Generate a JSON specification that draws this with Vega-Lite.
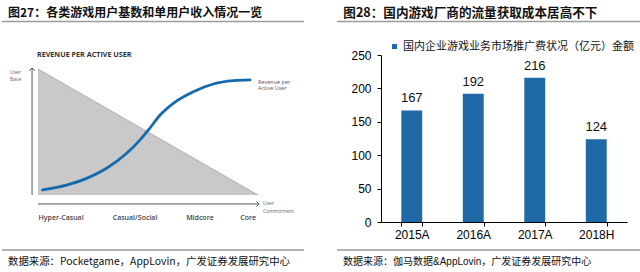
{
  "$schema": "https://vega.github.io/schema/vega-lite/v6.json",
  "background": "white",
  "padding": 0,
  "spacing": 8,
  "config": {"view": {"stroke": null}, "font": "Liberation Sans"},
  "hconcat": [
    {
      "width": 320,
      "height": 272,
      "layer": [
        {
          "data": {"values": [{}]},
          "layer": [
            {
              "mark": {"type": "text", "align": "left", "baseline": "middle", "font": "Noto Sans CJK SC", "fontSize": 12, "fontWeight": "bold", "color": "#111"},
              "encoding": {
                "x": {"datum": 0.025, "type": "quantitative", "scale": {"domain": [0, 1]}, "axis": null},
                "y": {"datum": 0.952, "type": "quantitative", "scale": {"domain": [0, 1]}, "axis": null},
                "text": {"value": "图27：各类游戏用户基数和单用户收入情况一览"}
              }
            },
            {
              "mark": {"type": "rule", "color": "#9a9a9a", "strokeWidth": 1.5},
              "encoding": {
                "x": {"datum": 0.006, "type": "quantitative"},
                "x2": {"datum": 0.95},
                "y": {"datum": 0.921, "type": "quantitative"}
              }
            },
            {
              "mark": {"type": "rule", "color": "#9a9a9a", "strokeWidth": 1.5},
              "encoding": {
                "x": {"datum": 0.006, "type": "quantitative"},
                "x2": {"datum": 0.95},
                "y": {"datum": 0.081, "type": "quantitative"}
              }
            },
            {
              "mark": {"type": "text", "align": "left", "baseline": "middle", "font": "Noto Sans CJK SC", "fontSize": 10.4, "color": "#111"},
              "encoding": {
                "x": {"datum": 0.025, "type": "quantitative"},
                "y": {"datum": 0.037, "type": "quantitative"},
                "text": {"value": "数据来源：Pocketgame，AppLovin，广发证券发展研究中心"}
              }
            }
          ]
        },
        {
          "layer": [
            {
              "data": {"values": [{"c": 0, "v": 1}, {"c": 1, "v": 0}]},
              "mark": {"type": "area", "color": "#c9c9c9"},
              "encoding": {
                "x": {"field": "c", "type": "quantitative", "scale": {"domain": [0, 1], "range": [38, 258], "nice": false, "zero": false}, "axis": null},
                "y": {"field": "v", "type": "quantitative", "scale": {"domain": [0, 1], "range": [195, 69], "nice": false, "zero": false}, "axis": null}
              }
            },
            {
              "data": {"values": [{"c": 0, "v": 1}, {"c": 1, "v": 0}]},
              "mark": {"type": "line", "color": "#a5a5a5", "strokeWidth": 0.8},
              "encoding": {
                "x": {"field": "c", "type": "quantitative"},
                "y": {"field": "v", "type": "quantitative"}
              }
            },
            {
              "data": {"values": [{}]},
              "mark": {"type": "rule", "color": "#555", "strokeWidth": 1},
              "encoding": {
                "x": {"datum": -0.027, "type": "quantitative"},
                "y": {"datum": 0, "type": "quantitative"},
                "y2": {"datum": 1.008}
              }
            },
            {
              "data": {"values": [{}]},
              "mark": {"type": "rule", "color": "#555", "strokeWidth": 1},
              "encoding": {
                "x": {"datum": 0, "type": "quantitative"},
                "x2": {"datum": 1.005},
                "y": {"datum": -0.071, "type": "quantitative"}
              }
            },
            {
              "data": {"values": [{}]},
              "mark": {"type": "point", "shape": "M -1 1 L 0 0 L 1 1", "filled": false, "color": "#555", "strokeWidth": 1, "size": 30, "opacity": 1},
              "encoding": {
                "x": {"datum": -0.027, "type": "quantitative"},
                "y": {"datum": 1.008, "type": "quantitative"}
              }
            },
            {
              "data": {"values": [{}]},
              "mark": {"type": "point", "shape": "M -1 -1 L 0 0 L -1 1", "filled": false, "color": "#555", "strokeWidth": 1, "size": 30, "opacity": 1},
              "encoding": {
                "x": {"datum": 1.005, "type": "quantitative"},
                "y": {"datum": -0.071, "type": "quantitative"}
              }
            },
            {
              "data": {"values": [
                {"c": 0.021, "v": 0.04},
                {"c": 0.13, "v": 0.079},
                {"c": 0.221, "v": 0.132},
                {"c": 0.312, "v": 0.212},
                {"c": 0.403, "v": 0.331},
                {"c": 0.464, "v": 0.437},
                {"c": 0.502, "v": 0.516},
                {"c": 0.555, "v": 0.635},
                {"c": 0.615, "v": 0.728},
                {"c": 0.706, "v": 0.82},
                {"c": 0.797, "v": 0.881},
                {"c": 0.888, "v": 0.907},
                {"c": 0.964, "v": 0.913}
              ]},
              "mark": {"type": "line", "color": "#1569ad", "strokeWidth": 2.8, "interpolate": "monotone", "strokeCap": "round"},
              "encoding": {
                "x": {"field": "c", "type": "quantitative"},
                "y": {"field": "v", "type": "quantitative"}
              }
            },
            {
              "data": {"values": [
                {"label": "Hyper-Casual", "c": 0.105},
                {"label": "Casual/Social", "c": 0.441},
                {"label": "Midcore", "c": 0.736},
                {"label": "Core", "c": 0.955}
              ]},
              "mark": {"type": "text", "font": "Open Sans", "fontSize": 7, "fontWeight": 600, "color": "#444", "baseline": "middle"},
              "encoding": {
                "x": {"field": "c", "type": "quantitative"},
                "y": {"datum": -0.183, "type": "quantitative"},
                "text": {"field": "label"}
              }
            },
            {
              "data": {"values": [{}]},
              "mark": {"type": "text", "font": "Open Sans", "fontSize": 7.2, "fontWeight": "bold", "color": "#333", "align": "left", "baseline": "middle"},
              "encoding": {
                "x": {"datum": -0.005, "type": "quantitative"},
                "y": {"datum": 1.111, "type": "quantitative"},
                "text": {"value": "REVENUE PER ACTIVE USER"}
              }
            },
            {
              "data": {"values": [{}]},
              "mark": {"type": "text", "font": "Open Sans", "fontSize": 5, "color": "#666", "align": "left", "baseline": "middle", "lineHeight": 7},
              "encoding": {
                "x": {"datum": -0.127, "type": "quantitative"},
                "y": {"datum": 0.976, "type": "quantitative"},
                "text": {"value": ["User", "Base"]}
              }
            },
            {
              "data": {"values": [{}]},
              "mark": {"type": "text", "font": "Open Sans", "fontSize": 5.5, "color": "#555", "align": "left", "baseline": "middle", "lineHeight": 6.5},
              "encoding": {
                "x": {"datum": 1.0, "type": "quantitative"},
                "y": {"datum": 0.897, "type": "quantitative"},
                "text": {"value": ["Revenue per", "Active User"]}
              }
            },
            {
              "data": {"values": [{}]},
              "mark": {"type": "text", "font": "Open Sans", "fontSize": 5, "color": "#666", "align": "left", "baseline": "middle", "lineHeight": 8.5},
              "encoding": {
                "x": {"datum": 1.023, "type": "quantitative"},
                "y": {"datum": -0.063, "type": "quantitative"},
                "text": {"value": ["User", "Commitment"]}
              }
            }
          ]
        }
      ],
      "resolve": {"scale": {"x": "independent", "y": "independent"}}
    },
    {
      "width": 312,
      "height": 272,
      "layer": [
        {
          "data": {"values": [{}]},
          "layer": [
            {
              "mark": {"type": "text", "align": "left", "baseline": "middle", "font": "Noto Sans CJK SC", "fontSize": 12.6, "fontWeight": "bold", "color": "#111"},
              "encoding": {
                "x": {"datum": 0.049, "type": "quantitative", "scale": {"domain": [0, 1]}, "axis": null},
                "y": {"datum": 0.952, "type": "quantitative", "scale": {"domain": [0, 1]}, "axis": null},
                "text": {"value": "图28：国内游戏厂商的流量获取成本居高不下"}
              }
            },
            {
              "mark": {"type": "rule", "color": "#9a9a9a", "strokeWidth": 1.5},
              "encoding": {
                "x": {"datum": 0.029, "type": "quantitative"},
                "x2": {"datum": 1},
                "y": {"datum": 0.921, "type": "quantitative"}
              }
            },
            {
              "mark": {"type": "rule", "color": "#9a9a9a", "strokeWidth": 1.5},
              "encoding": {
                "x": {"datum": 0.029, "type": "quantitative"},
                "x2": {"datum": 1},
                "y": {"datum": 0.081, "type": "quantitative"}
              }
            },
            {
              "mark": {"type": "text", "align": "left", "baseline": "middle", "font": "Liberation Sans, Noto Sans CJK SC", "fontSize": 10, "color": "#111"},
              "encoding": {
                "x": {"datum": 0.048, "type": "quantitative"},
                "y": {"datum": 0.037, "type": "quantitative"},
                "text": {"value": "数据来源：伽马数据&AppLovin，广发证券发展研究中心"}
              }
            }
          ]
        },
        {
          "data": {"values": [
            {"year": "2015A", "value": 167, "series": "国内企业游戏业务市场推广费状况（亿元）金额"},
            {"year": "2016A", "value": 192, "series": "国内企业游戏业务市场推广费状况（亿元）金额"},
            {"year": "2017A", "value": 216, "series": "国内企业游戏业务市场推广费状况（亿元）金额"},
            {"year": "2018H", "value": 124, "series": "国内企业游戏业务市场推广费状况（亿元）金额"}
          ]},
          "layer": [
            {
              "mark": {"type": "bar"},
              "encoding": {
                "x": {
                  "field": "year", "type": "nominal", "sort": null,
                  "scale": {"range": [53, 299], "paddingInner": 0.66, "paddingOuter": 0.33},
                  "axis": {"orient": "bottom", "offset": -50, "title": null, "labelAngle": 0, "tickBand": "extent", "tickSize": 4, "tickColor": "#000", "domainColor": "#000", "labelFont": "Liberation Sans", "labelFontSize": 12, "labelColor": "#000", "labelPadding": 3}
                },
                "y": {
                  "field": "value", "type": "quantitative",
                  "scale": {"domain": [0, 250], "range": [222, 55], "nice": false},
                  "axis": {"orient": "left", "offset": -53, "title": null, "values": [0, 50, 100, 150, 200, 250], "grid": false, "tickSize": 4, "tickColor": "#000", "domainColor": "#000", "labelFont": "Liberation Sans", "labelFontSize": 12, "labelColor": "#000", "labelPadding": 6}
                },
                "color": {
                  "field": "series", "type": "nominal",
                  "scale": {"range": ["#1f69a6"]},
                  "legend": {"orient": "none", "legendX": 389, "legendY": 41, "title": null, "symbolType": "square", "symbolSize": 25, "labelFont": "Noto Sans CJK SC", "labelFontSize": 11, "labelColor": "#111", "labelOffset": 3, "labelLimit": 400}
                }
              }
            },
            {
              "mark": {"type": "text", "baseline": "bottom", "dy": -5, "font": "Liberation Sans", "fontSize": 13, "color": "#111"},
              "encoding": {
                "x": {"field": "year", "type": "nominal", "sort": null},
                "y": {"field": "value", "type": "quantitative"},
                "text": {"field": "value", "type": "quantitative"}
              }
            }
          ]
        }
      ],
      "resolve": {"scale": {"x": "independent", "y": "independent"}}
    }
  ]
}
